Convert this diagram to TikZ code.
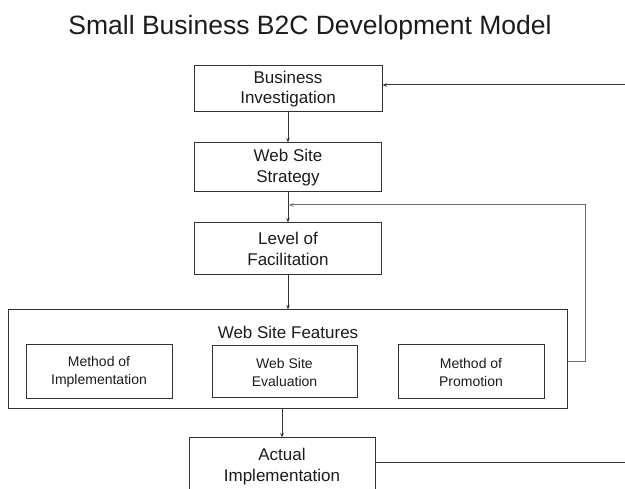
\documentclass[tikz,border=0pt]{standalone}
\usepackage{fontspec}
\setmainfont{Liberation Sans}
\usetikzlibrary{arrows.meta}
\definecolor{linec}{HTML}{333333}
\definecolor{textc}{HTML}{1C1C1C}
\definecolor{fbc}{HTML}{6E6E6E}
\begin{document}
\begin{tikzpicture}[x=1pt,y=-1pt,
  box/.style={draw=linec, line width=1pt, inner sep=0pt, align=center, text=textc,
    font=\fontsize{17}{20.5}\selectfont},
  ibox/.style={box, font=\fontsize{14}{18}\selectfont},
  plainline/.style={draw=linec, line width=1pt},
  conn/.style={plainline, -{Stealth[length=4.5pt,width=3.5pt]}},
  fbline/.style={conn, draw=fbc}]
\useasboundingbox (0,0) rectangle (625,489);
\clip (0,0) rectangle (625,489);
\fill[white] (0,0) rectangle (625,489);

\node[text=textc, font=\fontsize{26.5}{30}\selectfont, anchor=base] (title) at (310,35)
  {Small Business B2C Development Model};

\node[box, minimum width=188pt, minimum height=46pt] (bi) at (288,89) {Business\\Investigation};
\node[box, minimum width=187pt, minimum height=49pt] (wss) at (288,167.5) {Web Site\\Strategy};
\node[box, minimum width=187pt, minimum height=52pt] (lof) at (288,249) {Level of\\Facilitation};

\node[box, minimum width=559pt, minimum height=99pt] (outer) at (287.5,359.5) {};
\node[text=textc, font=\fontsize{17}{20.5}\selectfont] (wsf) at (288,332) {Web Site Features};
\node[ibox, minimum width=146pt, minimum height=54pt] (moi) at (99,372) {Method of\\Implementation};
\node[ibox, minimum width=145pt, minimum height=52pt] (wse) at (284.5,372) {Web Site\\Evaluation};
\node[ibox, minimum width=146pt, minimum height=54pt] (mop) at (471,372) {Method of\\Promotion};

\node[box, minimum width=186pt, minimum height=57pt] (act) at (282,466.5) {Actual\\Implementation};

% main flow
\draw[conn] (bi.south) -- (wss.north);
\draw[conn] (wss.south) -- (lof.north);
\draw[conn] (lof.south) -- (lof.south |- outer.north);
\draw[conn] (act.north |- outer.south) -- (act.north);

% feedback loops
\coordinate (topin) at (625,85);
\draw[conn] (topin) -- (bi.east |- topin);

\coordinate (fbin) at (289,205);
\coordinate (fbcorner) at (585,205);
\draw[fbline] ([yshift=-2.5pt]outer.east) -| (fbcorner) -- (fbin);

\coordinate (botout) at (625,463);
\draw[plainline] (act.east |- botout) -- (botout);
\end{tikzpicture}
\end{document}
